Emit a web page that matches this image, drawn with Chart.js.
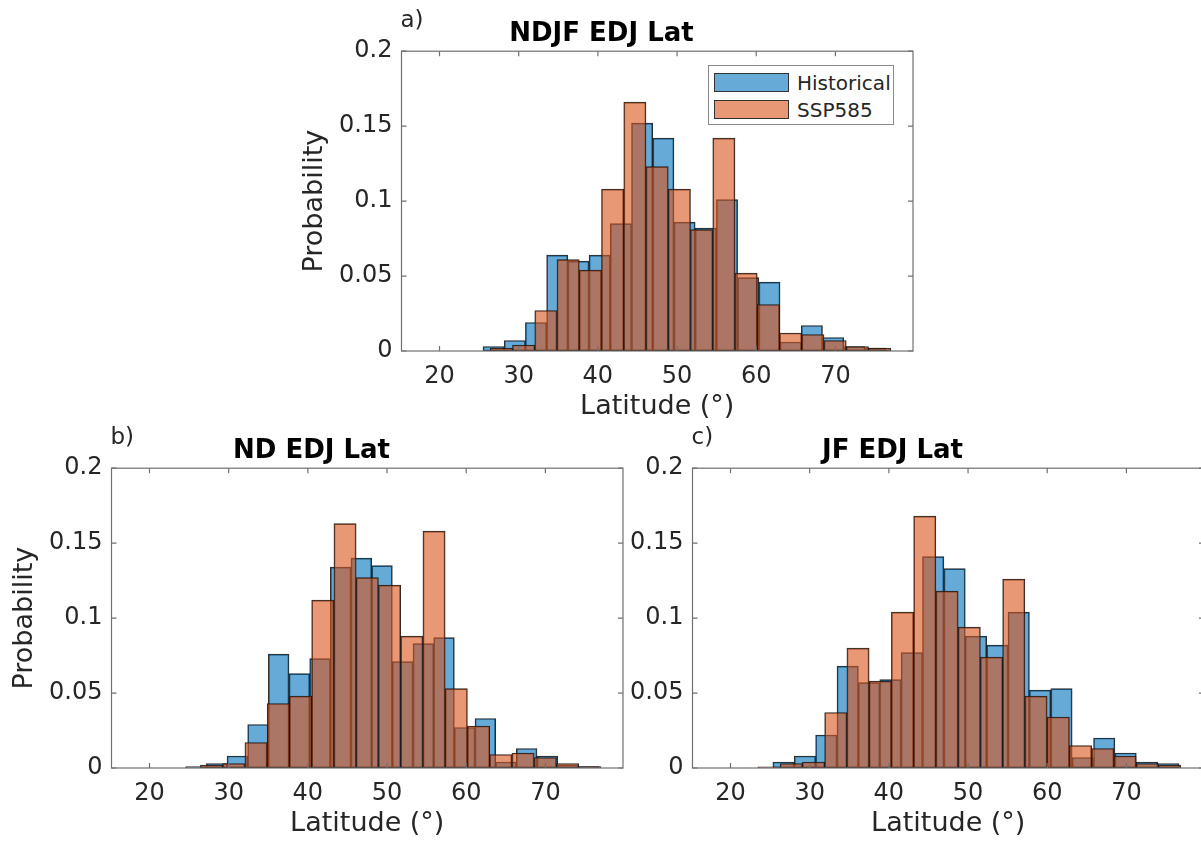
<!DOCTYPE html>
<html>
<head>
<meta charset="utf-8">
<script src="https://cdn.jsdelivr.net/npm/chart.js@4.4.1/dist/chart.umd.min.js"></script>
<style>
  html, body { margin: 0; padding: 0; background: #fff; overflow: hidden; }
  body { width: 1201px; height: 844px; position: relative; }
  canvas { position: absolute; }
  #legendA {
    position: absolute; left: 708px; top: 65px; width: 184px; height: 58px;
    border: 1px solid #8a8a8a; background: #fff;
    font-family: "DejaVu Sans", sans-serif; font-size: 20px; color: #262626;
  }
  #legendA .row { position: absolute; left: 5px; height: 19px; display: flex; align-items: center; }
  #legendA .sw { width: 73px; height: 17px; border: 1px solid #333; margin-right: 8px; }
</style>
</head>
<body>
<canvas id="chartA" width="640" height="424" style="left:290px; top:3px"></canvas>
<canvas id="chartB" width="640" height="424" style="left:0px; top:420px"></canvas>
<canvas id="chartC" width="640" height="424" style="left:581px; top:420px"></canvas>
<div id="legendA"></div>
<script>
// tick labels shared by the three panels
const xTicks = [20, 30, 40, 50, 60, 70];
const yTicks = [0, 0.05, 0.1, 0.15, 0.2];
const seriesNames = ["Historical", "SSP585"];

// a) NDJF — probability per bin, bins given by first edge + width
const ndjfHistStart = 25.49, ndjfHistWidth = 2.68;
const ndjfHist = [0.003, 0.007, 0.019, 0.064, 0.060, 0.064, 0.085, 0.152, 0.142, 0.086,
  0.082, 0.101, 0.049, 0.046, 0.006, 0.017, 0.009, 0.003, 0.002];
const ndjfSspStart = 26.41, ndjfSspWidth = 2.81;
const ndjfSsp = [0.002, 0.004, 0.027, 0.061, 0.054, 0.108, 0.166, 0.123, 0.108, 0.081,
  0.142, 0.052, 0.031, 0.012, 0.011, 0.007, 0.003, 0.002];

// b) ND
const ndHistStart = 24.57, ndHistWidth = 2.61;
const ndHist = [0.001, 0.003, 0.008, 0.029, 0.076, 0.063, 0.073, 0.134, 0.140, 0.135,
  0.071, 0.083, 0.087, 0.027, 0.033, 0.004, 0.013, 0.008, 0.002, 0.001];
const ndSspStart = 26.43, ndSspWidth = 2.81;
const ndSsp = [0.002, 0.003, 0.017, 0.043, 0.048, 0.112, 0.163, 0.127, 0.122, 0.088,
  0.158, 0.053, 0.028, 0.009, 0.010, 0.007, 0.003, 0.001];

// c) JF
const jfHistStart = 25.35, jfHistWidth = 2.70;
const jfHist = [0.004, 0.008, 0.022, 0.068, 0.057, 0.059, 0.077, 0.141, 0.133, 0.088,
  0.082, 0.104, 0.052, 0.053, 0.007, 0.020, 0.010, 0.004, 0.003];
const jfSspStart = 23.46, jfSspWidth = 2.81;
const jfSsp = [0.0007, 0.003, 0.004, 0.037, 0.080, 0.058, 0.104, 0.168, 0.118, 0.094,
  0.074, 0.126, 0.048, 0.034, 0.015, 0.013, 0.008, 0.003, 0.002];

const X_MIN = 15.2, X_MAX = 79.8;
const BLUE = "rgba(0,114,189,0.6)";
const ORANGE = "rgba(217,83,25,0.6)";
const FONT = "'DejaVu Sans', sans-serif";

Chart.defaults.font.family = FONT;
Chart.defaults.color = "#262626";

function binPoints(start, width, values) {
  return values.map((v, i) => ({ x: start + (i + 0.5) * width, y: v }));
}

// matlab style box with inward ticks and the panel letter
const framePlugin = {
  id: "frame",
  afterDatasetsDraw(chart, args, opts) {
    const { ctx, chartArea: a, scales } = chart;
    ctx.save();
    ctx.strokeStyle = "#707070";
    ctx.lineWidth = 1.2;
    ctx.strokeRect(a.left, a.top, a.right - a.left, a.bottom - a.top);
    ctx.beginPath();
    xTicks.forEach((v) => {
      const px = scales.x.getPixelForValue(v);
      ctx.moveTo(px, a.bottom); ctx.lineTo(px, a.bottom - 5);
      ctx.moveTo(px, a.top); ctx.lineTo(px, a.top + 5);
    });
    yTicks.forEach((v) => {
      const py = scales.y.getPixelForValue(v);
      ctx.moveTo(a.left, py); ctx.lineTo(a.left + 5, py);
      ctx.moveTo(a.right, py); ctx.lineTo(a.right - 5, py);
    });
    ctx.stroke();
    ctx.fillStyle = "#262626";
    ctx.font = "23px " + FONT;
    ctx.textBaseline = "middle";
    ctx.textAlign = "left";
    ctx.fillText(opts.letter, a.left - 1, a.top - 30);
    ctx.restore();
  },
};

function makePanel(id, title, letter, showYTitle, hist, ssp) {
  const el = document.getElementById(id);
  return new Chart(el.getContext("2d"), {
    type: "bar",
    data: {
      datasets: [
        {
          label: seriesNames[0],
          data: binPoints(hist.start, hist.width, hist.values),
          xAxisID: "x",
          backgroundColor: BLUE,
          borderColor: "rgba(20,20,20,0.9)",
          borderWidth: 1,
          borderSkipped: false,
          grouped: false,
          barPercentage: 1,
          categoryPercentage: 1,
          order: 2,
        },
        {
          label: seriesNames[1],
          data: binPoints(ssp.start, ssp.width, ssp.values),
          xAxisID: "x2",
          backgroundColor: ORANGE,
          borderColor: "rgba(20,20,20,0.9)",
          borderWidth: 1,
          borderSkipped: false,
          grouped: false,
          barPercentage: 1,
          categoryPercentage: 1,
          order: 1,
        },
      ],
    },
    options: {
      responsive: false,
      animation: false,
      layout: { padding: { left: 0, right: 17, top: 0, bottom: 0 } },
      plugins: {
        legend: { display: false },
        tooltip: { enabled: false },
        title: {
          display: true,
          text: title,
          color: "#000",
          font: { size: 26, weight: "bold" },
          padding: { top: 16, bottom: 1 },
        },
        frame: { letter: letter },
      },
      scales: {
        x: {
          type: "linear",
          min: X_MIN,
          max: X_MAX,
          offset: false,
          grid: { display: false, drawTicks: false, offset: false },
          border: { display: false },
          afterBuildTicks: (s) => { s.ticks = xTicks.map((v) => ({ value: v })); },
          afterFit: (s) => { s.height = 76; },
          ticks: { font: { size: 24 }, padding: 11, maxRotation: 0, callback: (v) => String(v) },
          title: {
            display: true,
            text: "Latitude (°)",
            font: { size: 27 },
            padding: { top: 0, bottom: 4 },
          },
        },
        x2: {
          type: "linear",
          min: X_MIN,
          max: X_MAX,
          offset: false,
          display: false,
          grid: { display: false, offset: false },
        },
        y: {
          min: 0,
          max: 0.2,
          grid: { display: false, drawTicks: false },
          border: { display: false },
          afterBuildTicks: (s) => { s.ticks = yTicks.map((v) => ({ value: v })); },
          afterFit: (s) => { s.width = 111.5; },
          ticks: { font: { size: 24 }, padding: 9, callback: (v) => String(v) },
          title: {
            display: showYTitle,
            text: "Probability",
            font: { size: 27 },
            padding: { top: 8.3, bottom: 0 },
          },
        },
      },
    },
    plugins: [framePlugin],
  });
}

const chartA = makePanel("chartA", "NDJF EDJ Lat", "a)", true,
  { start: ndjfHistStart, width: ndjfHistWidth, values: ndjfHist },
  { start: ndjfSspStart, width: ndjfSspWidth, values: ndjfSsp });
makePanel("chartB", "ND EDJ Lat", "b)", true,
  { start: ndHistStart, width: ndHistWidth, values: ndHist },
  { start: ndSspStart, width: ndSspWidth, values: ndSsp });
makePanel("chartC", "JF EDJ Lat", "c)", false,
  { start: jfHistStart, width: jfHistWidth, values: jfHist },
  { start: jfSspStart, width: jfSspWidth, values: jfSsp });

// legend of panel a, built from the chart's datasets
const legendEl = document.getElementById("legendA");
chartA.data.datasets.forEach((ds, i) => {
  const row = document.createElement("div");
  row.className = "row";
  row.style.top = (i === 0 ? 7 : 34) + "px";
  const sw = document.createElement("div");
  sw.className = "sw";
  sw.style.background = ds.backgroundColor;
  const txt = document.createElement("span");
  txt.textContent = ds.label;
  row.appendChild(sw);
  row.appendChild(txt);
  legendEl.appendChild(row);
});
</script>
</body>
</html>
